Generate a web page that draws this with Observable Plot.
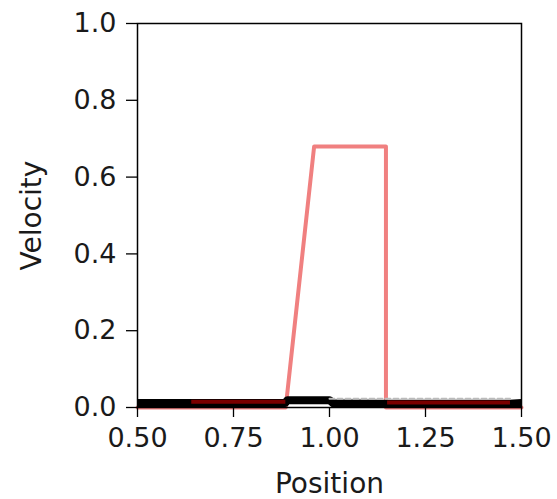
<!DOCTYPE html>
<html>
<head>
<meta charset="utf-8">
<script src="https://cdn.jsdelivr.net/npm/d3@7"></script>
<script src="https://cdn.jsdelivr.net/npm/@observablehq/plot@0.6"></script>
<style>
  html, body { margin: 0; padding: 0; background: #fff; }
</style>
</head>
<body>
<div id="chart"></div>
<script>
// Analytic velocity profile (light red)
const solX = [0.50, 0.886, 0.960, 1.147, 1.147, 1.50];
const solY = [0.0, 0.0, 0.68, 0.68, 0.0, 0.0];

// Particle velocities (black band near zero)
const partX = [0.50, 0.64, 0.885, 0.89, 1.00, 1.01, 1.14, 1.47, 1.50];
const partY = [0.012, 0.012, 0.012, 0.019, 0.019, 0.011, 0.010, 0.010, 0.012];

// Dark red segments
const redX1 = [0.64, 0.885];
const redY1 = [0.015, 0.015];
const redX2 = [1.15, 1.47];
const redY2 = [0.013, 0.013];

// Grey dashed segment
const greyX = [1.00, 1.47];
const greyY = [0.023, 0.023];

const xTicks = [0.5, 0.75, 1.0, 1.25, 1.5];
const yTicks = [0.0, 0.2, 0.4, 0.6, 0.8, 1.0];

const toRows = (xs, ys, z) => xs.map((x, i) => ({x, y: ys[i], z}));
const sol = toRows(solX, solY, "sol");
const part = toRows(partX, partY, "part");
const red = [...toRows(redX1, redY1, "a"), ...toRows(redX2, redY2, "b")];
const grey = toRows(greyX, greyY, "g");

const chart = Plot.plot({
  width: 557,
  height: 499,
  marginLeft: 137,
  marginRight: 36,
  marginTop: 23,
  marginBottom: 92,
  style: {fontFamily: "DejaVu Sans", fontSize: "27px", color: "#1a1a1a", background: "#fff"},
  x: {domain: [0.5, 1.5]},
  y: {domain: [0, 1]},
  marks: [
    Plot.line(sol, {x: "x", y: "y", stroke: "#f08080", strokeOpacity: 1, strokeWidth: 4}),
    Plot.line(part, {x: "x", y: "y", stroke: "black", strokeWidth: 8, strokeLinecap: "butt"}),
    Plot.line(red, {x: "x", y: "y", z: "z", stroke: "#7a0000", strokeWidth: 4, strokeLinecap: "butt"}),
    Plot.line(grey, {x: "x", y: "y", stroke: "#bbbbbb", strokeWidth: 2, strokeDasharray: "5,3"}),
    Plot.frame({stroke: "black", strokeWidth: 1.5}),
    Plot.axisX({ticks: xTicks, tickFormat: d3.format(".2f"), tickSize: 10, tickPadding: 10, label: null, stroke: "black", strokeWidth: 1.3}),
    Plot.axisY({ticks: yTicks, tickFormat: d3.format(".1f"), tickSize: 11, tickPadding: 10, label: null, stroke: "black", strokeWidth: 1.3}),
    Plot.text(["Position"], {frameAnchor: "bottom", dy: 85, fontSize: 28, fill: "#1a1a1a"}),
    Plot.text(["Velocity"], {frameAnchor: "left", textAnchor: "middle", dx: -105, rotate: -90, fontSize: 28, fill: "#1a1a1a"})
  ]
});
document.getElementById("chart").appendChild(chart);
</script>
</body>
</html>
